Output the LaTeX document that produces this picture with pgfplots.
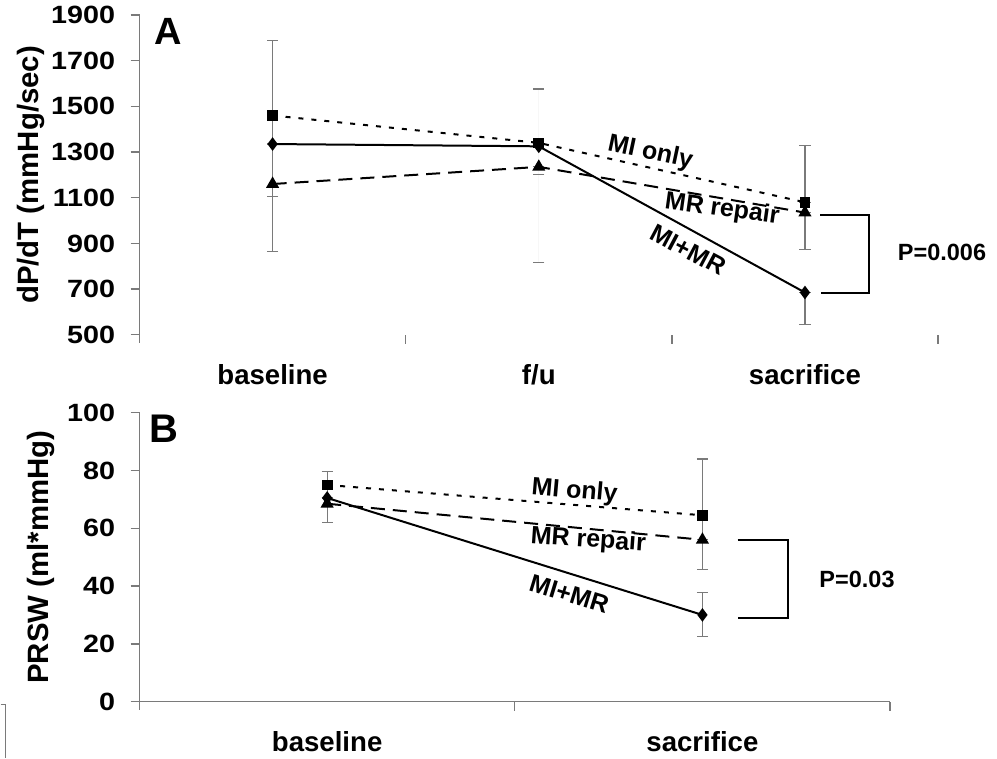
\documentclass[border=0pt]{standalone}
\usepackage{fontspec}
\setmainfont{Liberation Sans}
\newfontfamily\tickf{Liberation Sans}[FakeStretch=1.15]
\usepackage{pgfplots}
\pgfplotsset{compat=1.18}
\definecolor{axgray}{HTML}{7A7A7A}
\tikzset{lab/.style={font=\bfseries\fontsize{12.5}{13}\selectfont, inner sep=0pt}}
\begin{document}
\begin{tikzpicture}
\path (0,0) rectangle (498.5pt,379pt);
\draw[axgray, line width=0.6pt] (0,26.5pt) -- (2.5pt,26.5pt) -- (2.5pt,0);
\pgfplotsset{
  base/.style={scale only axis, anchor=south west, clip=false,
    axis x line=bottom, axis y line=left,
    axis line style={-, axgray, line width=0.7pt},
    tick align=outside, major tick length=4.5pt,
    tick style={axgray, line width=0.7pt},
    /pgf/number format/assume math mode=true,
    /pgf/number format/1000 sep={},
    yticklabel style={font=\tickf\bfseries\fontsize{12.5}{13}\selectfont, anchor=east, inner sep=0pt, xshift=-7.5pt},
    xticklabels={},
    extra x tick style={tick style={draw=none},
      xticklabel style={font=\bfseries\fontsize{13.8}{14}\selectfont, anchor=center, inner sep=0pt}},
    ylabel style={font=\bfseries\fontsize{14.7}{15}\selectfont, anchor=center},
  },
  mionly/.style={black, line width=1pt, dash pattern=on 2.5pt off 4pt, mark=square*, mark size=2.2pt, mark options={solid}},
  mimr/.style={black, line width=1pt, solid, mark=diamond*, mark size=2.6pt, mark options={solid}},
  mrrep/.style={black, line width=1pt, dash pattern=on 7pt off 4pt, mark=triangle*, mark size=2.8pt, mark options={solid}},
  errs/.style={draw=none, mark=none, forget plot,
    error bars/.cd, y dir=both, y explicit,
    error bar style={draw=#1, solid, line width=0.6pt},
    error mark options={draw=axgray, solid, line width=0.6pt, mark size=2.8pt, rotate=90}},
}
% ---------------- Panel A ----------------
\begin{axis}[base,
  at={(69.5pt,211.5pt)}, width=399.5pt, height=160pt,
  xmin=0.5, xmax=3.5, ymin=500, ymax=1900,
  ytick={500,700,...,1900},
  xtick={1.5,2.5,3.5},
  x axis line style={draw=none},
  y axis line style={shorten <=-4pt},
  extra x ticks={1,2,3},
  extra x tick labels={baseline,f/u,sacrifice},
  extra x tick style={xticklabel style={yshift=-15.5pt}},
  ylabel={dP/dT (mmHg/sec)},
  ylabel style={at={(axis description cs:-0.1364,0.5)}},
]
\addplot[errs=axgray] coordinates {
  (1,1460) += (0,330) -= (0,125)
  (1,1335) += (0,0) -= (0,230)
  (1,1160) += (0,175) -= (0,297)
  (3,1080) += (0,247) -= (0,45)
  (3,1035) += (0,45) -= (0,163)
  (3,685) += (0,0) -= (0,140)
};
\addplot[errs=axgray!6] coordinates {
  (2,1340) += (0,236) -= (0,0)
  (2,1325) += (0,0) -= (0,510)
  (2,1235) += (0,0) -= (0,35)
};
\addplot[mrrep] coordinates {(1,1160) (2,1235) (3,1035)};
\addplot[mimr] coordinates {(1,1335) (2,1325) (3,685)};
\addplot[mionly] coordinates {(1,1460) (2,1340) (3,1080)};
\node[lab, rotate=-12] at (axis cs:2.419,1296) {MI only};
\node[lab, rotate=-8] at (axis cs:2.689,1047) {MR repair};
\node[lab, rotate=-28] at (axis cs:2.562,872) {MI+MR};
\draw[black, line width=1.1pt] (axis cs:3.057,1025) -- (axis cs:3.241,1025) -- (axis cs:3.241,684) -- (axis cs:3.061,684);
\node[font=\bfseries\fontsize{11.75}{12}\selectfont, inner sep=0pt] at (axis cs:3.515,859) {P=0.006};
\node[font=\bfseries\fontsize{19}{19}\selectfont, inner sep=0pt] at (axis cs:0.609,1826) {A};
\end{axis}
% ---------------- Panel B ----------------
\begin{axis}[base,
  at={(69.5pt,28pt)}, width=375.5pt, height=144.5pt,
  xmin=0.5, xmax=2.5, ymin=0, ymax=100,
  ytick={0,20,...,100},
  xtick={1.5,2.5},
  y axis line style={shorten <=-4pt},
  extra x ticks={1,2},
  extra x tick labels={baseline,sacrifice},
  extra x tick style={xticklabel style={yshift=-15.5pt}},
  ylabel={PRSW (ml*mmHg)},
  ylabel style={at={(axis description cs:-0.1318,0.5)}},
]
\addplot[errs=axgray] coordinates {
  (1,75) += (0,4.6) -= (0,4.5)
  (1,70.5) += (0,0) -= (0,0)
  (1,68.5) += (0,2) -= (0,6.5)
  (2,64.5) += (0,19.5) -= (0,8.5)
  (2,56) += (0,8.5) -= (0,10.4)
  (2,30) += (0,7.9) -= (0,7.4)
};
\addplot[mrrep] coordinates {(1,68.5) (2,56)};
\addplot[mimr] coordinates {(1,70.5) (2,30)};
\addplot[mionly] coordinates {(1,75) (2,64.5)};
\node[lab, rotate=-5] at (axis cs:1.659,72.7) {MI only};
\node[lab, rotate=-4] at (axis cs:1.696,55.7) {MR repair};
\node[lab, rotate=-17] at (axis cs:1.645,37.2) {MI+MR};
\draw[black, line width=1.1pt] (axis cs:2.094,56.0) -- (axis cs:2.228,56.0) -- (axis cs:2.228,28.9) -- (axis cs:2.094,28.9);
\node[font=\bfseries\fontsize{11.75}{12}\selectfont, inner sep=0pt] at (axis cs:2.412,42.4) {P=0.03};
\node[font=\bfseries\fontsize{20}{20}\selectfont, inner sep=0pt] at (axis cs:0.564,94.6) {B};
\end{axis}
\end{tikzpicture}
\end{document}
